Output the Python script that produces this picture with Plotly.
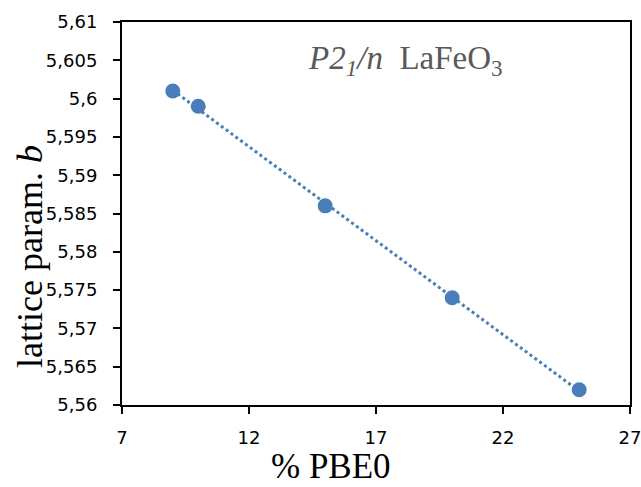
import numpy as np
import plotly.graph_objects as go

pbe0 = [9, 10, 15, 20, 25]
lattice_b = [5.601, 5.599, 5.586, 5.574, 5.562]
x_ticks = [7, 12, 17, 22, 27]
y_ticks = [5.56, 5.565, 5.57, 5.575, 5.58, 5.585, 5.59, 5.595, 5.6, 5.605, 5.61]
y_tick_text = [("%g" % v).replace(".", ",") for v in y_ticks]

blue = "#4a7ebb"

slope, intercept = np.polyfit(pbe0, lattice_b, 1)
fit_x = [min(pbe0), max(pbe0)]
fit_y = [slope * v + intercept for v in fit_x]

fig = go.Figure()
fig.add_trace(go.Scatter(x=fit_x, y=fit_y, mode="lines",
                         line=dict(color=blue, width=3, dash="dot"),
                         hoverinfo="skip", showlegend=False))
fig.add_trace(go.Scatter(x=pbe0, y=lattice_b, mode="markers",
                         marker=dict(color=blue, size=15, line=dict(width=0)),
                         showlegend=False))

axis_common = dict(showline=True, linecolor="black", linewidth=2, mirror=True,
                   ticks="outside", ticklen=7, tickwidth=2, tickcolor="black",
                   showgrid=False, zeroline=False, automargin=False,
                   ticklabeloverflow="allow",
                   tickfont=dict(family="DejaVu Sans, sans-serif", size=18, color="black"))

fig.update_xaxes(range=[7, 27], tickvals=x_ticks, ticktext=[str(v) for v in x_ticks],
                 ticklabelstandoff=8, **axis_common)
fig.update_yaxes(range=[5.56, 5.61], tickvals=y_ticks, ticktext=y_tick_text,
                 ticklabelstandoff=12, **axis_common)

serif = "Liberation Serif, Times New Roman, serif"
fig.update_layout(
    width=641, height=487,
    margin=dict(l=122, r=11, t=22, b=82),
    plot_bgcolor="white", paper_bgcolor="white",
    annotations=[
        dict(text="% PBE0", xref="paper", yref="paper", x=(331 - 122) / 508, y=-62 / 383,
             xanchor="center", yanchor="middle", showarrow=False,
             font=dict(family=serif, size=35, color="black")),
        dict(text="lattice param. <i>b</i>", xref="paper", yref="paper",
             x=-92 / 508, y=(405 - 257) / 383, textangle=-90,
             xanchor="center", yanchor="middle", showarrow=False,
             font=dict(family=serif, size=36, color="black")),
        dict(text="<i>P2<sub>1</sub>/n</i>  LaFeO<sub>3</sub>", xref="paper", yref="paper",
             x=(405 - 122) / 508, y=(405 - 60) / 383,
             xanchor="center", yanchor="middle", showarrow=False,
             font=dict(family=serif, size=33, color="#595959")),
    ],
)

fig.write_html("out.html")
